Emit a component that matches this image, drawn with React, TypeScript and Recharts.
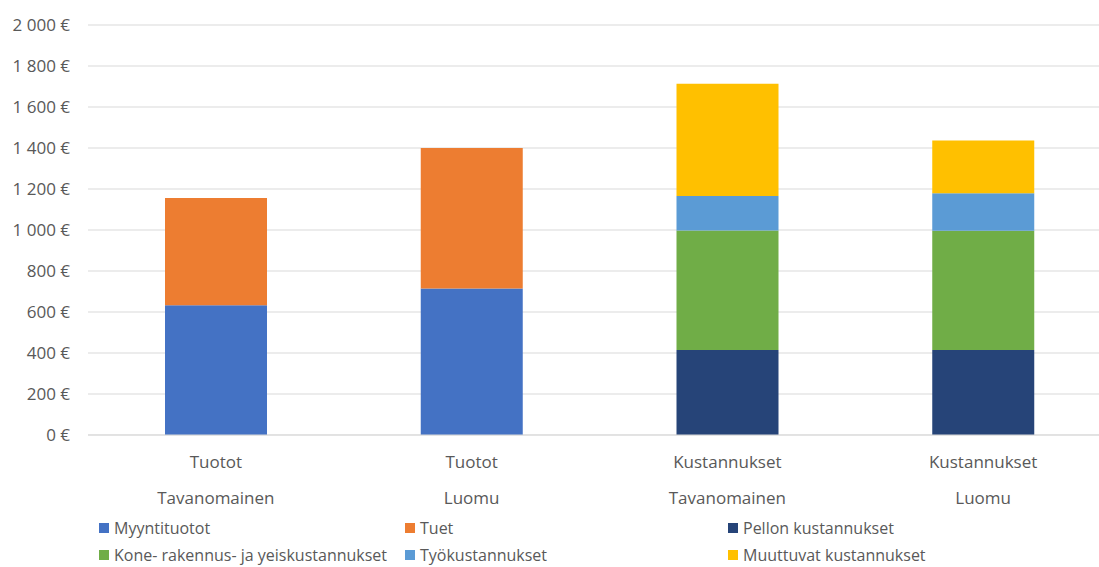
import React from 'react';
import { BarChart, Bar, XAxis, YAxis, CartesianGrid } from 'recharts';

const groupLabels = ['Tuotot', 'Tuotot', 'Kustannukset', 'Kustannukset'];
const subLabels = ['Tavanomainen', 'Luomu', 'Tavanomainen', 'Luomu'];

const myyntituotot = [633, 715, null, null];
const tuet = [523, 685, null, null];
const pellon = [null, null, 415, 415];
const kone = [null, null, 583, 581];
const tyo = [null, null, 168, 183];
const muuttuvat = [null, null, 548, 258];

const yTicks = [0, 200, 400, 600, 800, 1000, 1200, 1400, 1600, 1800, 2000];

const series = [
  { key: 'myynti', name: 'Myyntituotot', color: '#4472C4' },
  { key: 'tuet', name: 'Tuet', color: '#ED7D31' },
  { key: 'pellon', name: 'Pellon kustannukset', color: '#264478' },
  { key: 'kone', name: 'Kone- rakennus- ja yeiskustannukset', color: '#70AD47' },
  { key: 'tyo', name: 'Työkustannukset', color: '#5B9BD5' },
  { key: 'muuttuvat', name: 'Muuttuvat kustannukset', color: '#FFC000' },
];

const data = groupLabels.map((g, i) => ({
  id: i,
  group: g,
  sub: subLabels[i],
  myynti: myyntituotot[i],
  tuet: tuet[i],
  pellon: pellon[i],
  kone: kone[i],
  tyo: tyo[i],
  muuttuvat: muuttuvat[i],
}));

const FONT = '"Open Sans", sans-serif';
const TEXT = '#595959';
const FS = 17;

const formatEuro = (v: number) =>
  `${String(v).replace(/\B(?=(\d{3})+(?!\d))/g, '\u00a0')} €`;

const CategoryTick = (props: any) => {
  const { x, y, payload } = props;
  const row = data[payload.value];
  return (
    <g>
      <text x={x} y={y + 25} textAnchor="middle" fill={TEXT} fontSize={FS} fontFamily={FONT}>
        {row.group}
      </text>
      <text x={x} y={y + 61} textAnchor="middle" fill={TEXT} fontSize={FS} fontFamily={FONT}>
        {row.sub}
      </text>
    </g>
  );
};

const legendCols = [99, 405, 728];

export default function App() {
  return (
    <div style={{ position: 'absolute', left: 0, top: 0, width: 1099, height: 567, overflow: 'hidden', background: '#fff' }}>
      <BarChart
        width={1111}
        height={567}
        data={data}
        margin={{ top: 25, right: 0, bottom: 0, left: 0 }}
      >
        <CartesianGrid vertical={false} stroke="#d9d9d9" />
        <XAxis
          dataKey="id"
          height={132}
          tick={<CategoryTick />}
          tickLine={false}
          axisLine={{ stroke: '#d9d9d9' }}
          interval={0}
        />
        <YAxis
          width={88}
          domain={[0, 2000]}
          ticks={yTicks}
          tickFormatter={formatEuro}
          tickLine={false}
          axisLine={false}
          tickSize={6}
          tickMargin={12}
          tick={{ fill: TEXT, fontSize: FS, fontFamily: FONT }}
        />
        {series.map((s) => (
          <Bar
            key={s.key}
            dataKey={s.key}
            name={s.name}
            stackId="a"
            fill={s.color}
            barSize={102}
            isAnimationActive={false}
          />
        ))}
      </BarChart>
      {series.map((s, i) => {
        const col = i % 3;
        const row = Math.floor(i / 3);
        return (
          <div
            key={s.key}
            style={{
              position: 'absolute',
              left: legendCols[col],
              top: 517 + row * 27,
              height: 22,
              lineHeight: '22px',
              display: 'flex',
              alignItems: 'center',
              fontFamily: FONT,
              fontSize: 16,
              color: TEXT,
              whiteSpace: 'nowrap',
            }}
          >
            <span style={{ width: 10, height: 10, background: s.color, marginRight: 5, display: 'inline-block' }} />
            {s.name}
          </div>
        );
      })}
    </div>
  );
}
